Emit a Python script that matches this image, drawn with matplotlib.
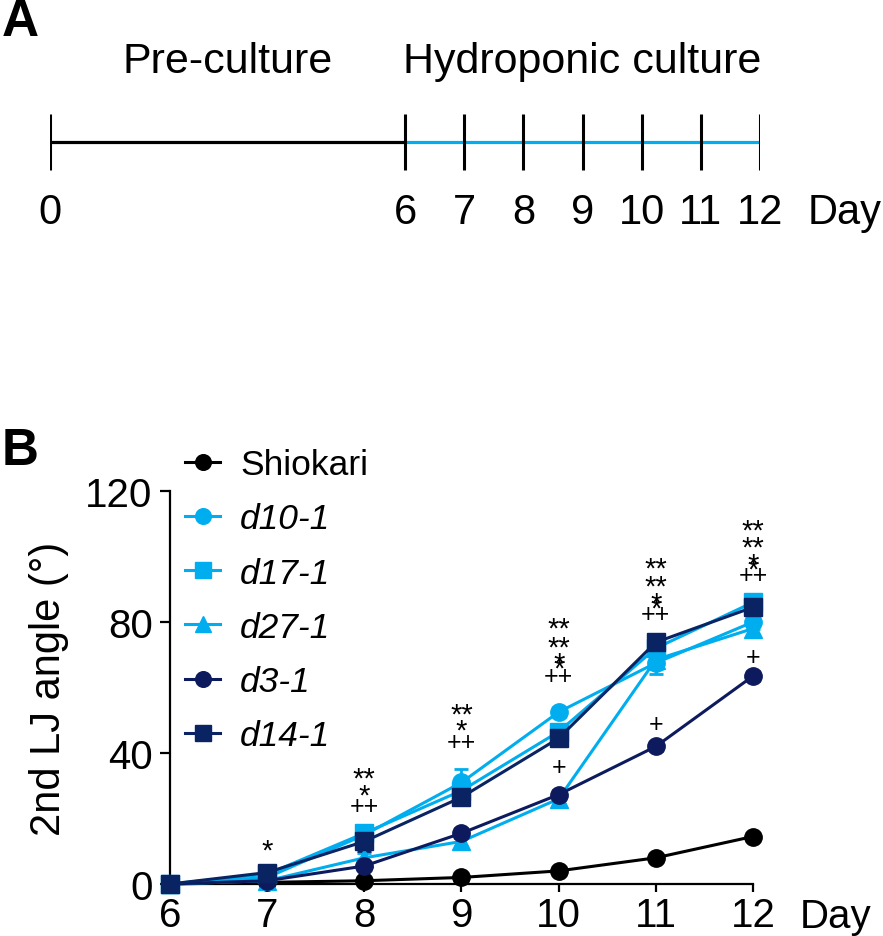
import numpy as np
import matplotlib
matplotlib.use('Agg')
import matplotlib.pyplot as plt
import matplotlib.transforms as mtransforms

plt.rcParams['font.family'] = ['Liberation Sans', 'DejaVu Sans']

# panel A timeline
pre_days = [0, 6]
hydro_days = [6, 7, 8, 9, 10, 11, 12]
timeline_ticks = [0, 6, 7, 8, 9, 10, 11, 12]

# panel B data (2nd LJ angle, degrees)
days = [6, 7, 8, 9, 10, 11, 12]
names = ['Shiokari', 'd10-1', 'd17-1', 'd27-1', 'd3-1', 'd14-1']
shiokari = [0, 0.5, 1, 2, 4, 8, 14.5]
d10 = [0, 2, 15, 31, 52.5, 67.5, 80]
d17 = [0, 3, 15.5, 28.5, 46.5, 72, 86]
d27 = [0, 1, 8, 13, 26, 68.5, 78]
d3 = [0, 1, 5.5, 15.5, 27.3, 42, 63.5]
d14 = [0, 3.5, 13, 26.5, 44.5, 73.8, 84.5]
err_shiokari = [0, 0.3, 0.5, 0.5, 0.8, 1, 1]
err_d10 = [0, 0.5, 2, 4, 1.5, 2, 2]
err_d17 = [0, 0.5, 1.5, 2, 2, 2, 2]
err_d27 = [0, 0.5, 1.5, 1.5, 1.5, 4.5, 2]
err_d3 = [0, 0.3, 1, 1.5, 1.5, 1.5, 1.5]
err_d14 = [0, 0.5, 3, 1.5, 1.5, 1.5, 1.5]

# significance marks: (day, y, text); '*2' = two overlapping stars
sig_marks = [
    (7, 12.2, '*'),
    (8, 34.2, '**'), (8, 29.0, '*'), (8, 23.8, '++'),
    (9, 54.0, '**'), (9, 48.9, '*'), (9, 43.4, '++'),
    (10, 80.0, '**'), (10, 74.2, '**'), (10, 68.7, '*2'), (10, 63.5, '++'), (10, 35.7, '+'),
    (11, 98.3, '**'), (11, 92.8, '**'), (11, 87.0, '*2'), (11, 82.4, '++'), (11, 48.9, '+'),
    (12, 109.9, '**'), (12, 104.7, '**'), (12, 98.9, '*2'), (12, 94.4, '++'), (12, 69.3, '+'),
]

light = '#00AEEF'
navy1 = '#0D1B5E'
navy2 = '#0A2463'

W, H = 883, 937
fig = plt.figure(figsize=(W / 100, H / 100), dpi=100)

# ---------- panel A ----------
axA = fig.add_axes([50 / W, 1 - 250 / H, 710 / W, 250 / H])
axA.set_xlim(0, 12)
axA.set_ylim(250, 0)
axA.axis('off')
axA.plot(pre_days, [143, 143], color='black', lw=2.3, solid_capstyle='butt')
axA.plot([hydro_days[0], hydro_days[-1]], [143, 143], color=light, lw=2.3, solid_capstyle='butt')
for d in timeline_ticks:
    axA.plot([d, d], [115, 171], color='black', lw=2.2, solid_capstyle='butt')
    axA.text(d, 213, str(d), ha='center', va='center', fontsize=30)
axA.text(12.8, 213, 'Day', ha='left', va='center', fontsize=30)
axA.text(3, 62, 'Pre-culture', ha='center', va='center', fontsize=31)
axA.text(9, 62, 'Hydroponic culture', ha='center', va='center', fontsize=31)
fig.text(2 / W, 1 - 22 / H, 'A', fontsize=37, fontweight='bold', ha='left', va='center')

# ---------- panel B ----------
axB = fig.add_axes([170 / W, 52 / H, 583 / W, 393 / H])
series = [
    (shiokari, err_shiokari, 'black', 'o'),
    (d10, err_d10, light, 'o'),
    (d17, err_d17, light, 's'),
    (d27, err_d27, light, '^'),
    (d3, err_d3, navy1, 'o'),
    (d14, err_d14, navy2, 's'),
]
handles = []
for vals, err, col, mk in series:
    eb = axB.errorbar(days, vals, yerr=err, color=col, marker=mk, ms=12.5, lw=2.2,
                      capsize=5, capthick=2, elinewidth=2, clip_on=False, zorder=3)
    handles.append(eb.lines[0])

axB.set_xlim(6, 12)
axB.set_ylim(0, 120)
axB.set_xticks(days)
axB.set_yticks([0, 40, 80, 120])
axB.spines['top'].set_visible(False)
axB.spines['right'].set_visible(False)
for s in ['left', 'bottom']:
    axB.spines[s].set_linewidth(1.6)
axB.tick_params(axis='both', labelsize=29, width=1.6)
axB.tick_params(axis='y', length=7.5, pad=5)
axB.tick_params(axis='x', length=6, pad=3)
axB.set_ylabel('2nd LJ angle (\u00b0)', fontsize=30, labelpad=12)
axB.text(12.48, -3.97, 'Day', ha='left', va='top', fontsize=29)

star_tr = mtransforms.offset_copy(axB.transData, fig=fig, y=-5, units='points')
for d, y, t in sig_marks:
    if t == '*2':
        axB.text(d, y + 0.8, '*', ha='center', va='center', fontsize=21, zorder=5, transform=star_tr)
        axB.text(d, y - 0.8, '*', ha='center', va='center', fontsize=21, zorder=5, transform=star_tr)
    elif '*' in t:
        axB.text(d, y, t, ha='center', va='center', fontsize=21, zorder=5, transform=star_tr)
    else:
        axB.text(d, y, t, ha='center', va='center', fontsize=18, zorder=5)

leg = axB.legend(handles, names, loc='upper left', bbox_to_anchor=(185 / W, 1 - 449 / H),
                 bbox_transform=fig.transFigure, frameon=False, fontsize=25.5,
                 handlelength=1.0, handletextpad=0.55, labelspacing=0.6,
                 borderpad=0, borderaxespad=0, markerscale=0.9)
for txt in leg.get_texts()[1:]:
    txt.set_fontstyle('italic')

fig.text(2 / W, 1 - 452 / H, 'B', fontsize=37, fontweight='bold', ha='left', va='center')

fig.savefig('out.png', dpi=100)
